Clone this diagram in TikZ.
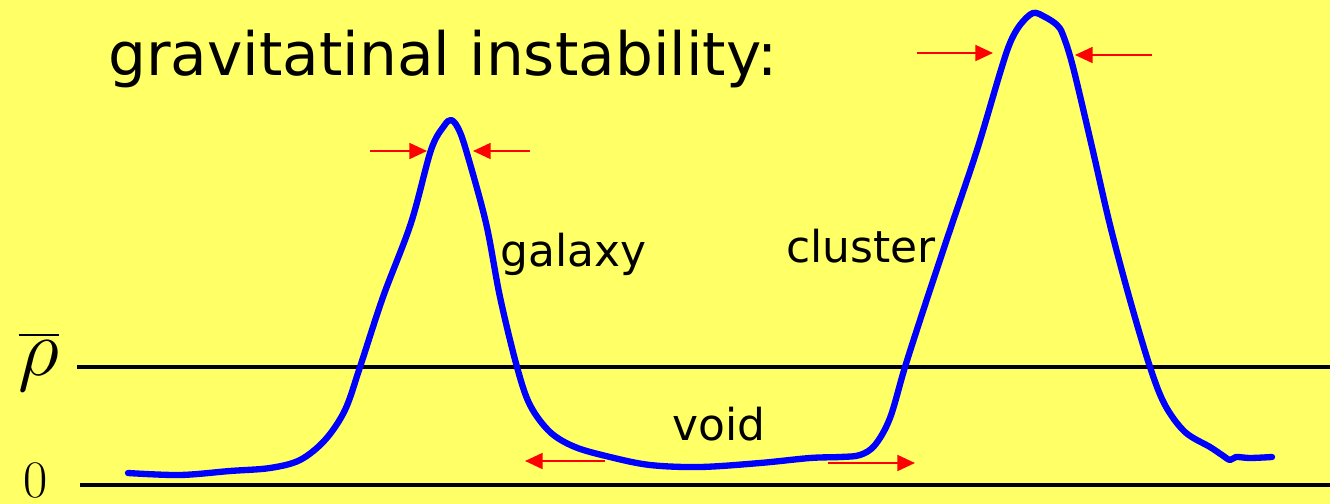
\RequirePackage{fix-cm}
\documentclass[tikz,border=0pt]{standalone}
\usepackage{amsmath}
\usepackage{fontspec}
\usepackage{tikz}
\usetikzlibrary{arrows.meta,positioning}
\newfontfamily\labelfont{DejaVu Sans}
\definecolor{bgyellow}{RGB}{255,255,102}

\begin{document}
\begin{tikzpicture}[x=0.02cm, y=-0.02cm]
\tikzset{
  lbl/.style={font=\labelfont\fontsize{25}{30}\selectfont, anchor=base west, inner sep=0pt},
  level/.style={line width=2.1pt, black},
  dens/.style={line width=3.6pt, blue, line join=round, line cap=round},
  arr/.style={-{Triangle[length=10pt, width=9pt]}, line width=1.3pt, red},
}
\fill[bgyellow] (0,0) rectangle (1330,504);
\useasboundingbox (0,0) rectangle (1330,504);
\node[lbl, font=\labelfont\fontsize{34}{40}\selectfont] (title) at (108,75) {gravitatinal instability:};
\node[font=\fontsize{46}{50}\selectfont, inner sep=0pt] (rhobar) at (39,362) {$\overline{\rho}$};
\node[font=\fontsize{30}{34}\selectfont, inner sep=0pt] (zero) at (36,481) {$0$};
\coordinate (rhoend) at (1330,367);
\coordinate (zeroend) at (1330,485);
\draw[level] (77,367) -- (rhoend);
\draw[level] (80,485) -- (zeroend);
% density profile
\draw[dens] plot[smooth, tension=0.55] coordinates {
  (128,473) (180,475) (230,471) (270,468) (300,460) (325,440) (345,410)
  (360,367) (383,297) (411,223) (431,150) (444,126) (451,120) (458,128)
  (466,150) (486,223) (500,297) (517,367) (530,405) (550,432) (575,447)
  (610,457) (650,465) (700,467) (760,463) (810,458) (840,457) (860,455)
  (875,445) (890,418) (905,367) (925,305) (950,230) (977,150) (1000,73)
  (1010,43) (1020,25) (1033,13) (1045,17) (1057,25) (1063,35) (1073,67)
  (1092,147) (1110,225) (1130,300) (1150,367) (1165,405) (1185,432)
  (1210,447) (1222,455) (1230,460) (1236,457) (1250,458) (1272,457)};
\node[lbl] (galaxy) at (500,266) {galaxy};
\node[lbl] (cluster) at (786,262) {cluster};
\node[lbl] (void) at (672,440) {void};
% collapse arrows
\coordinate (ga1) at (370,151); \coordinate (ga2) at (427,151);
\coordinate (gb1) at (530,151); \coordinate (gb2) at (473,151);
\coordinate (ca1) at (917,53);  \coordinate (ca2) at (993,53);
\coordinate (cb1) at (1152,55); \coordinate (cb2) at (1075,55);
\coordinate (va1) at (605,461); \coordinate (va2) at (525,461);
\coordinate (vb1) at (828,463); \coordinate (vb2) at (915,463);
\draw[arr] (ga1) -- (ga2);
\draw[arr] (gb1) -- (gb2);
\draw[arr] (ca1) -- (ca2);
\draw[arr] (cb1) -- (cb2);
\draw[arr] (va1) -- (va2);
\draw[arr] (vb1) -- (vb2);
\end{tikzpicture}
\end{document}
